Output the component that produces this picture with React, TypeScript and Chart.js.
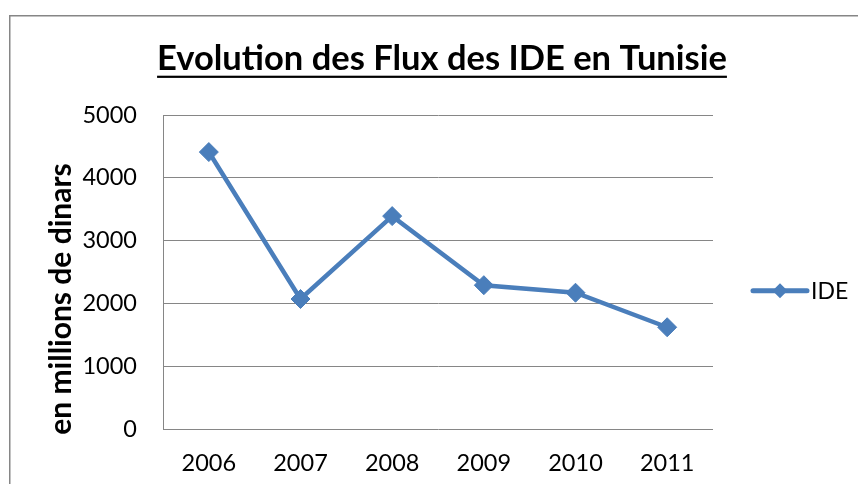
import { useEffect, useRef } from "react";
import { Chart, registerables } from "chart.js";

Chart.register(...registerables);

const years = ["2006", "2007", "2008", "2009", "2010", "2011"];
const ideValues = [4410, 2070, 3390, 2290, 2170, 1620];
const seriesLabel = "IDE";
const chartTitle = "Evolution des Flux des IDE en Tunisie";
const yAxisTitle = "en millions de dinars";
const yMin = 0;
const yMax = 5000;
const yStep = 1000;

const FONT = "Lato, 'Open Sans', sans-serif";
const BLUE = "#4A7EBB";
const GRID = "#868686";

const decorations = {
  id: "decorations",
  beforeDraw(chart: any) {
    const ctx = chart.ctx;
    ctx.save();
    ctx.fillStyle = "#fff";
    ctx.fillRect(0, 0, chart.width, chart.height);
    ctx.strokeStyle = GRID;
    ctx.lineWidth = 1.5;
    ctx.beginPath();
    ctx.moveTo(9.75, chart.height);
    ctx.lineTo(9.75, 15.75);
    ctx.lineTo(chart.width, 15.75);
    ctx.stroke();
    ctx.restore();
  },
  afterDraw(chart: any) {
    const { ctx, chartArea } = chart;
    ctx.save();
    // Title with underline
    ctx.font = `bold 34.5px ${FONT}`;
    ctx.fillStyle = "#000";
    ctx.textAlign = "center";
    ctx.textBaseline = "alphabetic";
    const tx = (chartArea.left + chartArea.right) / 2 + 4;
    ctx.fillText(chartTitle, tx, 69.5);
    const w = ctx.measureText(chartTitle).width;
    ctx.fillRect(tx - w / 2, 75.7, w, 2.2);

    // Y axis title
    ctx.save();
    ctx.translate(61, 299);
    ctx.rotate(-Math.PI / 2);
    ctx.font = `bold 30px ${FONT}`;
    ctx.textAlign = "center";
    ctx.textBaseline = "middle";
    ctx.fillText(yAxisTitle, 0, 0);
    ctx.restore();

    // Legend
    const ds = chart.data.datasets[0];
    const ly = 290.7;
    ctx.strokeStyle = ds.borderColor;
    ctx.lineWidth = 5;
    ctx.lineCap = "round";
    ctx.beginPath();
    ctx.moveTo(753, ly);
    ctx.lineTo(807, ly);
    ctx.stroke();
    ctx.fillStyle = ds.pointBackgroundColor;
    ctx.beginPath();
    ctx.moveTo(780 - 7.5, ly);
    ctx.lineTo(780, ly - 7.5);
    ctx.lineTo(780 + 7.5, ly);
    ctx.lineTo(780, ly + 7.5);
    ctx.closePath();
    ctx.fill();
    ctx.fillStyle = "#000";
    ctx.font = `23px ${FONT}`;
    ctx.textAlign = "left";
    ctx.textBaseline = "middle";
    ctx.fillText(ds.label, 811, ly + 1);
    ctx.restore();
  },
};

export default function App() {
  const canvasRef = useRef<HTMLCanvasElement | null>(null);

  useEffect(() => {
    if (!canvasRef.current) return;
    const tickFont = { family: FONT, size: 23.5 };
    const chart = new Chart(canvasRef.current, {
      type: "line",
      data: {
        labels: years,
        datasets: [
          {
            label: seriesLabel,
            data: ideValues,
            borderColor: BLUE,
            backgroundColor: BLUE,
            borderWidth: 4.5,
            pointStyle: "rectRot",
            pointRadius: 9.5,
            pointHoverRadius: 9.5,
            pointBackgroundColor: BLUE,
            pointBorderColor: BLUE,
            pointBorderWidth: 1,
            tension: 0,
            fill: false,
          },
        ],
      },
      options: {
        responsive: false,
        animation: false,
        devicePixelRatio: 1,
        layout: { padding: { top: 115, right: 145, left: 0, bottom: 0 } },
        plugins: {
          legend: { display: false },
          title: { display: false },
          tooltip: { enabled: false },
        },
        scales: {
          x: {
            type: "category",
            offset: true,
            grid: { display: false, drawTicks: false },
            border: { display: false },
            ticks: { font: tickFont, color: "#000", padding: 20, maxRotation: 0 },
            afterFit: (s: any) => {
              s.height = 55;
            },
          },
          y: {
            min: yMin,
            max: yMax,
            ticks: {
              stepSize: yStep,
              font: tickFont,
              color: "#000",
              padding: 26,
              callback: (v: any) => String(v),
            },
            grid: { color: GRID, drawTicks: false, lineWidth: 1 },
            border: { display: true, color: GRID, width: 1 },
            afterFit: (s: any) => {
              s.width = 163;
            },
          },
        },
      },
      plugins: [decorations],
    });
    return () => chart.destroy();
  }, []);

  return (
    <div style={{ position: "fixed", left: 0, top: 0, width: 858, height: 484, background: "#fff" }}>
      <canvas ref={canvasRef} width={858} height={484} style={{ display: "block" }} />
    </div>
  );
}
